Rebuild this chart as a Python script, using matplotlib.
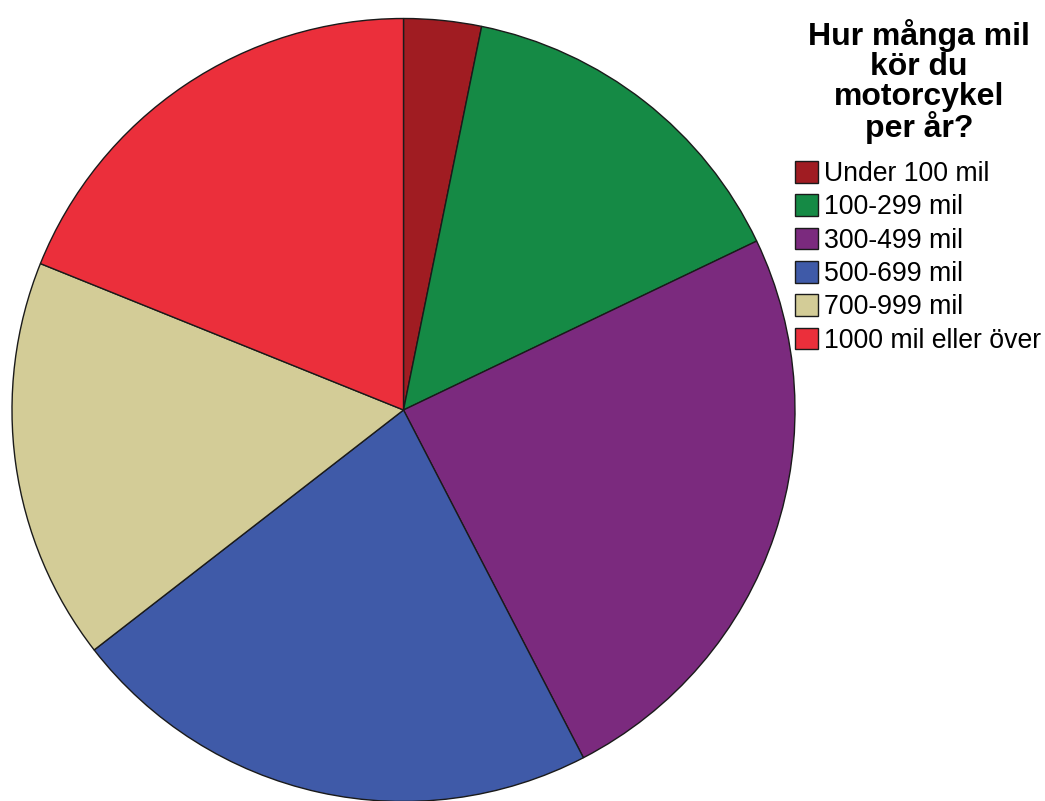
import matplotlib.pyplot as plt

plt.rcParams['font.family'] = ['Liberation Sans', 'DejaVu Sans']

# distance ridden per year, share of answers (%)
categories = ['Under 100 mil', '100-299 mil', '300-499 mil',
              '500-699 mil', '700-999 mil', '1000 mil eller över']
shares = [3.2, 14.7, 24.5, 22.1, 16.6, 18.9]
colors = ['#a01c22', '#158a45', '#7b2a7e', '#3f5aa8', '#d3cc97', '#eb2f3b']
legend_title = 'Hur många mil\nkör du\nmotorcykel\nper år?'

W, H = 1045, 801
fig = plt.figure(figsize=(W / 100, H / 100), dpi=100)

# pie centre and radius in pixels
cx, cy, r = 403.5, 410, 391.5
ax = fig.add_axes([(cx - r) / W, (H - cy - r) / H, 2 * r / W, 2 * r / H])

wedges, _ = ax.pie(shares, colors=colors, startangle=90, counterclock=False,
                   wedgeprops=dict(edgecolor='#1a1a1a', linewidth=1.0))
ax.set_xlim(-1, 1)
ax.set_ylim(-1, 1)
ax.set_aspect('equal')
ax.axis('off')

# legend heading, centred above the entries
fig.text(919 / W, 1 - 19 / H, legend_title, ha='center', va='top',
         multialignment='center', fontsize=23, fontweight='bold',
         linespacing=0.99)

fig.legend(wedges, categories, loc='upper left',
           bbox_to_anchor=(795 / W, 1 - 161 / H),
           frameon=False, fontsize=19.2, borderpad=0, borderaxespad=0,
           handlelength=0.88, handleheight=0.88, handletextpad=0.2,
           labelspacing=0.27)

fig.savefig('out.png', dpi=100)
